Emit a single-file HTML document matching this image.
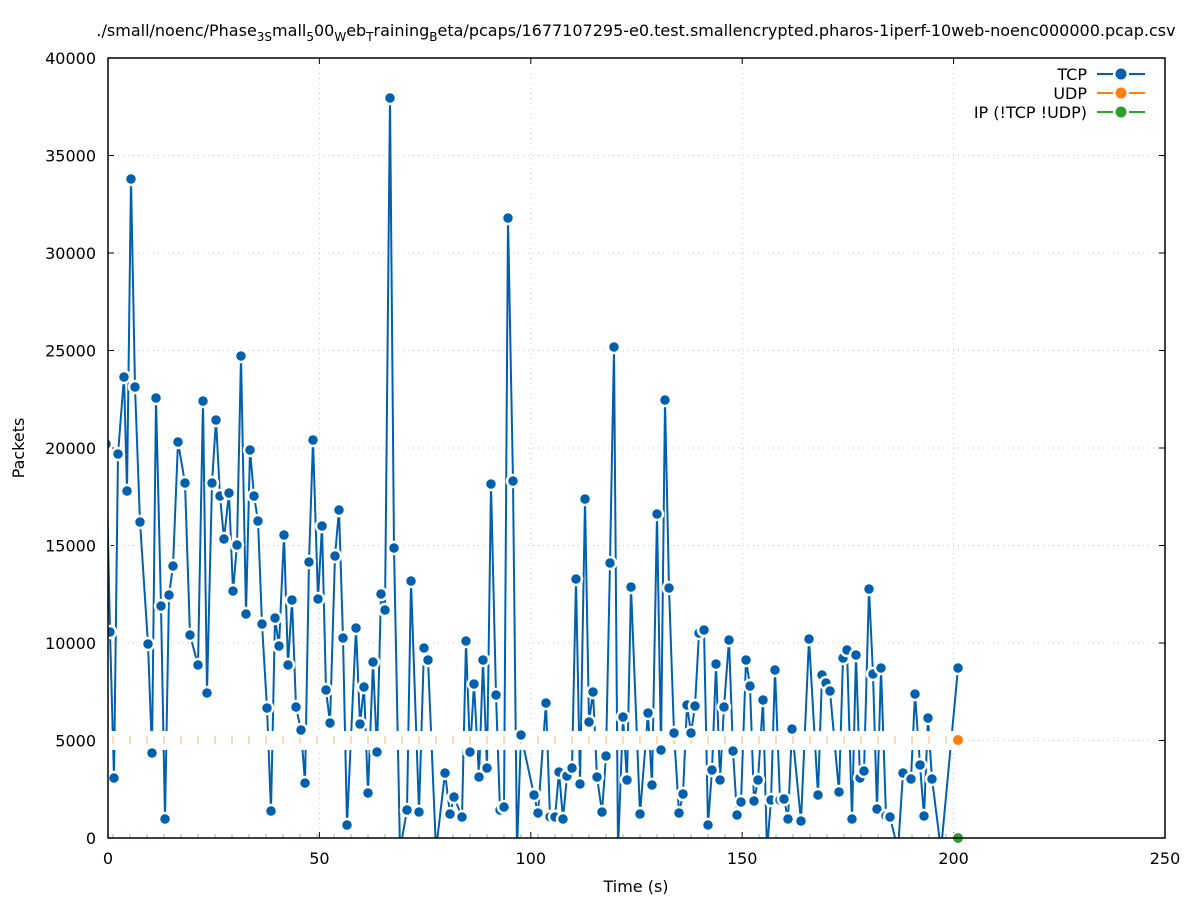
<!DOCTYPE html>
<html><head><meta charset="utf-8"><style>
body{margin:0;background:#fff}
svg{display:block;font-family:"DejaVu Sans","Liberation Sans",sans-serif}
</style></head><body>
<svg id="s" width="1197" height="900" xmlns="http://www.w3.org/2000/svg">
<defs><clipPath id="c"><rect x="108" y="58" width="1057" height="780"/></clipPath></defs>
<g id="grid" stroke="#c8c8c8" stroke-dasharray="1,4" stroke-width="1"></g>
<text x="636" y="36" font-size="16" text-anchor="middle">./small/noenc/Phase<tspan dy="5" font-size="12">3S</tspan><tspan dy="-5">mall</tspan><tspan dy="5" font-size="12">5</tspan><tspan dy="-5">00</tspan><tspan dy="5" font-size="12">W</tspan><tspan dy="-5">eb</tspan><tspan dy="5" font-size="12">T</tspan><tspan dy="-5">raining</tspan><tspan dy="5" font-size="12">B</tspan><tspan dy="-5">eta/pcaps/1677107295-e0.test.smallencrypted.pharos-1iperf-10web-noenc000000.pcap.csv</tspan></text>
<g id="ticks" font-size="16"></g>
<text x="636" y="892" font-size="16" text-anchor="middle">Time (s)</text>
<text x="24" y="448" font-size="16" text-anchor="middle" transform="rotate(-90 24 448)">Packets</text>
<g clip-path="url(#c)">
<polyline id="tcp" fill="none" stroke="#fff" stroke-width="5"/>
<polyline id="tcp2" fill="none" stroke="#0060ad" stroke-width="2"/>
<rect x="104" y="731" width="856" height="19" fill="#fff"/>
<g id="udp" stroke="#ff7f0e" stroke-width="1" opacity="0.6"></g>
<g id="ip" stroke="#2ca02c" stroke-width="1" opacity="0.6"></g>
<g id="pts"></g>
</g>
<circle cx="958" cy="740" r="6" fill="#ff7f0e" stroke="#fff" stroke-width="2"/>
<circle cx="958" cy="838" r="6" fill="#2ca02c" stroke="#fff" stroke-width="2"/>
<rect x="108" y="58" width="1057" height="780" fill="none" stroke="#000" stroke-width="1.5"/>
<g font-size="16" text-anchor="end" xml:space="preserve">
<text x="1087" y="80">TCP</text><text x="1087" y="99">UDP</text><text x="1087" y="118">IP (!TCP  !UDP)</text>
</g>
<g stroke-width="2">
<line x1="1097" y1="74" x2="1113" y2="74" stroke="#0060ad"/><line x1="1129" y1="74" x2="1145" y2="74" stroke="#0060ad"/><circle cx="1121" cy="74" r="5.5" fill="#0060ad"/>
<line x1="1097" y1="93" x2="1113" y2="93" stroke="#ff7f0e"/><line x1="1129" y1="93" x2="1145" y2="93" stroke="#ff7f0e"/><circle cx="1121" cy="93" r="5.5" fill="#ff7f0e"/>
<line x1="1097" y1="112" x2="1113" y2="112" stroke="#2ca02c"/><line x1="1129" y1="112" x2="1145" y2="112" stroke="#2ca02c"/><circle cx="1121" cy="112" r="5.5" fill="#2ca02c"/>
</g>
</svg>
<script>
const NS="http://www.w3.org/2000/svg";
function el(p,t,a,txt){const e=document.createElementNS(NS,t);for(const k in a)e.setAttribute(k,a[k]);if(txt!==undefined)e.textContent=txt;document.getElementById(p).appendChild(e);return e;}
const X=v=>108+v*4.228, Y=v=>838-v*0.0195;
for(let i=0;i<=5;i++){const x=X(i*50);
 if(i>0&&i<5)el("grid","line",{x1:x,y1:58,x2:x,y2:838});
 el("ticks","line",{x1:x,y1:838,x2:x,y2:832,stroke:"#000"});el("ticks","line",{x1:x,y1:58,x2:x,y2:64,stroke:"#000"});
 el("ticks","text",{x:x,y:864,"text-anchor":"middle"},String(i*50));}
for(let i=0;i<=8;i++){const y=Y(i*5000);
 if(i>0&&i<8)el("grid","line",{x1:108,y1:y,x2:1165,y2:y});
 el("ticks","line",{x1:108,y1:y,x2:114,y2:y,stroke:"#000"});el("ticks","line",{x1:1165,y1:y,x2:1159,y2:y,stroke:"#000"});
 el("ticks","text",{x:96,y:y+6,"text-anchor":"end"},String(i*5000));}
for(let x=113;x<958;x+=17){el("udp","line",{x1:x,y1:736,x2:x,y2:744});el("ip","line",{x1:x,y1:834,x2:x,y2:842});}
const d=[106,444,110,632,114,778,118,454,124,377,127,491,131,179,135,387,140,522,148,644,152,753,156,398,161,606,165,819,169,595,173,566,178,442,185,483,190,635,198,665,203,401,207,693,212,483,216,420,220,496,224,539,229,493,233,591,237,545,241,356,246,614,250,450,254,496,258,521,262,624,267,708,271,811,275,618,279,646,284,535,288,665,292,600,296,707,301,730,305,783,309,562,313,440,318,599,322,526,326,690,330,723,335,556,339,510,343,638,347,825,356,628,360,724,364,687,368,793,373,662,377,752,381,594,385,610,390,98,394,548,400,850,407,810,411,581,419,812,424,648,428,660,436,850,445,773,450,814,454,797,462,817,466,641,470,752,474,684,479,777,483,660,487,768,491,484,496,695,500,810,504,807,508,218,513,481,517,850,521,735,534,795,538,813,546,703,550,817,555,817,559,772,563,819,567,776,572,768,576,579,580,784,585,499,589,722,593,692,597,777,602,812,606,756,610,563,614,347,618,850,623,717,627,780,631,587,640,814,648,713,652,785,657,514,661,750,665,400,669,588,674,733,679,813,683,794,687,705,691,733,695,706,699,633,704,630,708,825,712,770,716,664,720,780,724,707,729,640,733,751,737,815,741,802,746,660,750,686,754,801,758,780,763,700,767,850,771,800,775,670,780,800,784,799,788,819,792,729,801,821,809,639,818,795,822,675,826,683,830,691,839,792,843,658,847,650,852,819,856,655,860,778,864,771,869,589,873,674,877,809,881,668,886,816,890,817,898,850,903,773,911,779,915,694,920,765,924,816,928,718,932,779,941,850,958,668];
let s="";for(let i=0;i<d.length;i+=2){s+=d[i]+","+d[i+1]+" ";}
document.getElementById("tcp").setAttribute("points",s);document.getElementById("tcp2").setAttribute("points",s);
for(let i=0;i<d.length;i+=2){if(d[i+1]<840)el("pts","circle",{cx:d[i],cy:d[i+1],r:6,fill:"#0060ad",stroke:"#fff","stroke-width":2.5});}
</script>
</body></html>
